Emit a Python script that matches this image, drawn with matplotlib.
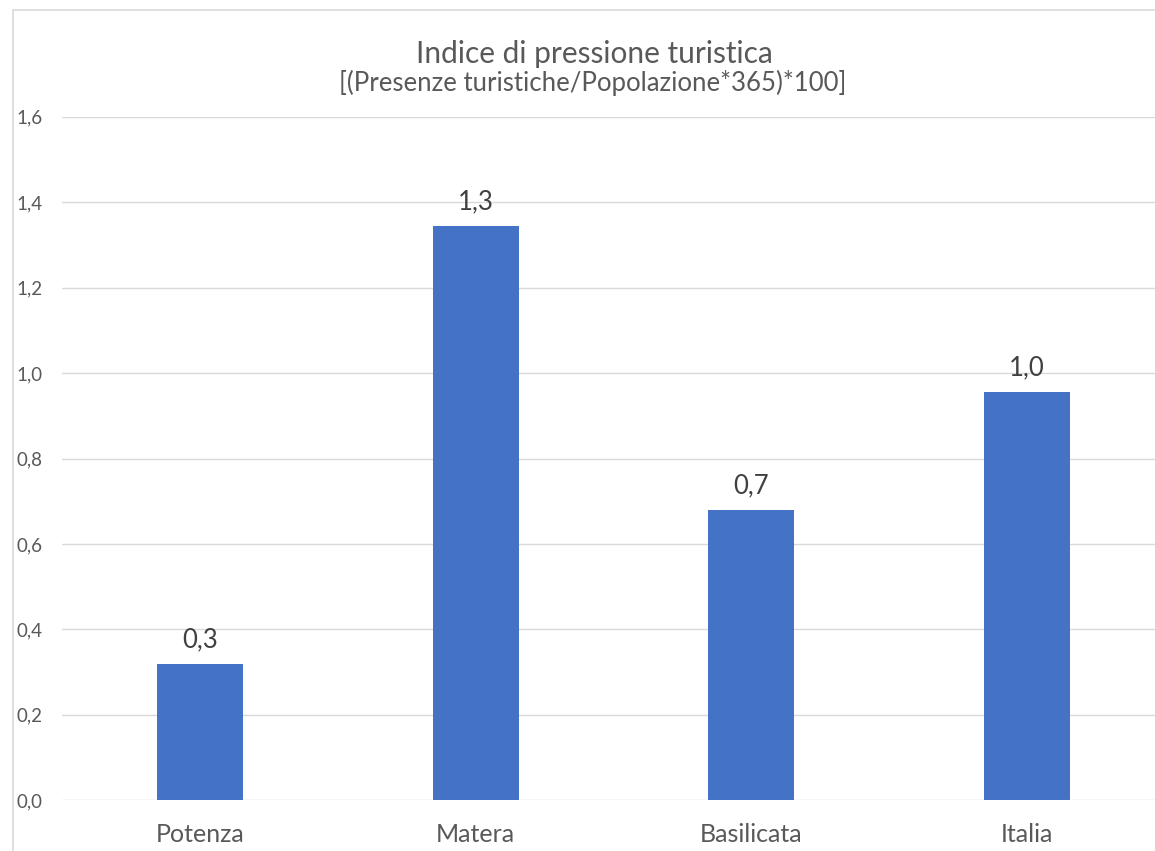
import matplotlib
matplotlib.use('Agg')
import matplotlib.pyplot as plt
from matplotlib.patches import Rectangle
from matplotlib.ticker import FuncFormatter

# indice di pressione turistica per area
aree = ['Potenza', 'Matera', 'Basilicata', 'Italia']
indice = [0.32, 1.345, 0.68, 0.955]
y_ticks = [0.0, 0.2, 0.4, 0.6, 0.8, 1.0, 1.2, 1.4, 1.6]

titolo = 'Indice di pressione turistica'
sottotitolo = '[(Presenze turistiche/Popolazione*365)*100]'

plt.rcParams['font.family'] = ['Lato', 'DejaVu Sans']

W, H = 1155, 851
fig = plt.figure(figsize=(W / 100, H / 100), dpi=100)

# area del grafico (si estende oltre il bordo destro)
left, right, bottom, top = 62.2, 1165, 800.3, 116.7
ax = fig.add_axes([left / W, (H - bottom) / H, (right - left) / W, (bottom - top) / H])

x = range(len(aree))
bars = ax.bar(x, indice, width=0.312, color='#4472C4', zorder=3)

ax.set_xlim(-0.5, len(aree) - 0.5)
ax.set_ylim(0, 1.6)
ax.set_yticks(y_ticks)
ax.yaxis.set_major_formatter(FuncFormatter(lambda v, p: f'{v:.1f}'.replace('.', ',')))
ax.set_xticks(list(x))
ax.set_xticklabels(aree)

ax.yaxis.grid(True, color='#d9d9d9', linewidth=1.0, zorder=0)
for s in ax.spines.values():
    s.set_visible(False)
ax.tick_params(axis='y', length=0, pad=14, labelsize=13.5, labelcolor='#595959')
ax.tick_params(axis='x', length=0, pad=16, labelsize=18, labelcolor='#595959')

# etichette dei valori sopra le barre
for b, v in zip(bars, indice):
    ax.annotate(f'{v:.1f}'.replace('.', ','), (b.get_x() + b.get_width() / 2, v),
                xytext=(0, 12), textcoords='offset points', ha='center', va='baseline',
                fontsize=18.5, color='#404040')

fig.text(594 / W, 1 - 63 / H, titolo, ha='center', va='baseline', fontsize=21.5, color='#595959')
fig.text(593 / W, 1 - 91 / H, sottotitolo, ha='center', va='baseline', fontsize=18.5, color='#595959')

# bordo dell'area del grafico
fig.patches.append(Rectangle((13 / W, -0.1), 1.2, 1.1 - 10 / H, transform=fig.transFigure,
                             fill=False, edgecolor='#d9d9d9', linewidth=1.2))

fig.savefig('out.png', dpi=100, facecolor='white')
